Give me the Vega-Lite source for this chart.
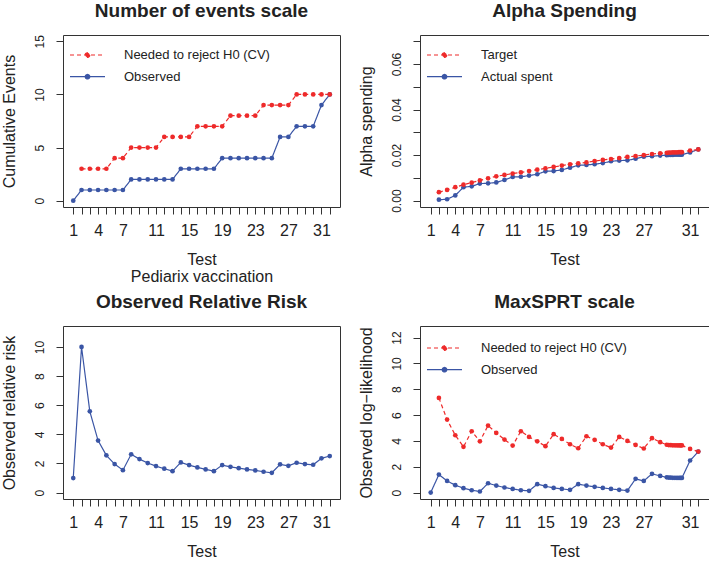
{
  "$schema": "https://vega.github.io/schema/vega-lite/v6.json",
  "padding": {"left": 0, "top": 1, "right": 0, "bottom": 0},
  "columns": 2,
  "spacing": {"row": 119, "column": 80},
  "bounds": "flush",
  "align": "each",
  "resolve": {"scale": {"color": "independent", "strokeDash": "independent", "x": "independent", "y": "independent"}, "legend": {"color": "independent"}},
  "datasets": {
    "events": [
      {"test":1,"series":"Observed","value":0},{"test":2,"series":"Observed","value":1},{"test":3,"series":"Observed","value":1},{"test":4,"series":"Observed","value":1},{"test":5,"series":"Observed","value":1},{"test":6,"series":"Observed","value":1},{"test":7,"series":"Observed","value":1},{"test":8,"series":"Observed","value":2},{"test":9,"series":"Observed","value":2},{"test":10,"series":"Observed","value":2},{"test":11,"series":"Observed","value":2},{"test":12,"series":"Observed","value":2},{"test":13,"series":"Observed","value":2},{"test":14,"series":"Observed","value":3},{"test":15,"series":"Observed","value":3},{"test":16,"series":"Observed","value":3},{"test":17,"series":"Observed","value":3},{"test":18,"series":"Observed","value":3},{"test":19,"series":"Observed","value":4},{"test":20,"series":"Observed","value":4},{"test":21,"series":"Observed","value":4},{"test":22,"series":"Observed","value":4},{"test":23,"series":"Observed","value":4},{"test":24,"series":"Observed","value":4},{"test":25,"series":"Observed","value":4},{"test":26,"series":"Observed","value":6},{"test":27,"series":"Observed","value":6},{"test":28,"series":"Observed","value":7},{"test":29,"series":"Observed","value":7},{"test":30,"series":"Observed","value":7},{"test":31,"series":"Observed","value":9},{"test":32,"series":"Observed","value":10},
      {"test":2,"series":"Needed to reject H0 (CV)","value":3},{"test":3,"series":"Needed to reject H0 (CV)","value":3},{"test":4,"series":"Needed to reject H0 (CV)","value":3},{"test":5,"series":"Needed to reject H0 (CV)","value":3},{"test":6,"series":"Needed to reject H0 (CV)","value":4},{"test":7,"series":"Needed to reject H0 (CV)","value":4},{"test":8,"series":"Needed to reject H0 (CV)","value":5},{"test":9,"series":"Needed to reject H0 (CV)","value":5},{"test":10,"series":"Needed to reject H0 (CV)","value":5},{"test":11,"series":"Needed to reject H0 (CV)","value":5},{"test":12,"series":"Needed to reject H0 (CV)","value":6},{"test":13,"series":"Needed to reject H0 (CV)","value":6},{"test":14,"series":"Needed to reject H0 (CV)","value":6},{"test":15,"series":"Needed to reject H0 (CV)","value":6},{"test":16,"series":"Needed to reject H0 (CV)","value":7},{"test":17,"series":"Needed to reject H0 (CV)","value":7},{"test":18,"series":"Needed to reject H0 (CV)","value":7},{"test":19,"series":"Needed to reject H0 (CV)","value":7},{"test":20,"series":"Needed to reject H0 (CV)","value":8},{"test":21,"series":"Needed to reject H0 (CV)","value":8},{"test":22,"series":"Needed to reject H0 (CV)","value":8},{"test":23,"series":"Needed to reject H0 (CV)","value":8},{"test":24,"series":"Needed to reject H0 (CV)","value":9},{"test":25,"series":"Needed to reject H0 (CV)","value":9},{"test":26,"series":"Needed to reject H0 (CV)","value":9},{"test":27,"series":"Needed to reject H0 (CV)","value":9},{"test":28,"series":"Needed to reject H0 (CV)","value":10},{"test":29,"series":"Needed to reject H0 (CV)","value":10},{"test":30,"series":"Needed to reject H0 (CV)","value":10},{"test":31,"series":"Needed to reject H0 (CV)","value":10},{"test":32,"series":"Needed to reject H0 (CV)","value":10}
    ],
    "alpha": [
      {"pos":2,"series":"Actual spent","value":0.0004},{"pos":3,"series":"Actual spent","value":0.0006},{"pos":4,"series":"Actual spent","value":0.0023},{"pos":5,"series":"Actual spent","value":0.0059},{"pos":6,"series":"Actual spent","value":0.0063},{"pos":7,"series":"Actual spent","value":0.0075},{"pos":8,"series":"Actual spent","value":0.0076},{"pos":9,"series":"Actual spent","value":0.008},{"pos":10,"series":"Actual spent","value":0.0091},{"pos":11,"series":"Actual spent","value":0.0104},{"pos":12,"series":"Actual spent","value":0.0105},{"pos":13,"series":"Actual spent","value":0.011},{"pos":14,"series":"Actual spent","value":0.0116},{"pos":15,"series":"Actual spent","value":0.0129},{"pos":16,"series":"Actual spent","value":0.013},{"pos":17,"series":"Actual spent","value":0.0135},{"pos":18,"series":"Actual spent","value":0.0145},{"pos":19,"series":"Actual spent","value":0.0155},{"pos":20,"series":"Actual spent","value":0.0157},{"pos":21,"series":"Actual spent","value":0.016},{"pos":22,"series":"Actual spent","value":0.0165},{"pos":23,"series":"Actual spent","value":0.0173},{"pos":24,"series":"Actual spent","value":0.0176},{"pos":25,"series":"Actual spent","value":0.0177},{"pos":26,"series":"Actual spent","value":0.0184},{"pos":27,"series":"Actual spent","value":0.0193},{"pos":28,"series":"Actual spent","value":0.0195},{"pos":29,"series":"Actual spent","value":0.0198},{"pos":29.8,"series":"Actual spent","value":0.02},{"pos":30.05,"series":"Actual spent","value":0.0201},{"pos":30.3,"series":"Actual spent","value":0.0201},{"pos":30.55,"series":"Actual spent","value":0.0201},{"pos":30.8,"series":"Actual spent","value":0.0202},{"pos":31.05,"series":"Actual spent","value":0.0202},{"pos":31.3,"series":"Actual spent","value":0.0202},{"pos":31.5,"series":"Actual spent","value":0.0202},{"pos":31.65,"series":"Actual spent","value":0.0202},{"pos":32.65,"series":"Actual spent","value":0.0212},{"pos":33.65,"series":"Actual spent","value":0.0225},
      {"pos":2,"series":"Target","value":0.0037},{"pos":3,"series":"Target","value":0.0047},{"pos":4,"series":"Target","value":0.0059},{"pos":5,"series":"Target","value":0.007},{"pos":6,"series":"Target","value":0.0079},{"pos":7,"series":"Target","value":0.0089},{"pos":8,"series":"Target","value":0.0098},{"pos":9,"series":"Target","value":0.0107},{"pos":10,"series":"Target","value":0.0113},{"pos":11,"series":"Target","value":0.0119},{"pos":12,"series":"Target","value":0.0124},{"pos":13,"series":"Target","value":0.013},{"pos":14,"series":"Target","value":0.0136},{"pos":15,"series":"Target","value":0.0142},{"pos":16,"series":"Target","value":0.0148},{"pos":17,"series":"Target","value":0.0154},{"pos":18,"series":"Target","value":0.016},{"pos":19,"series":"Target","value":0.0164},{"pos":20,"series":"Target","value":0.0168},{"pos":21,"series":"Target","value":0.0174},{"pos":22,"series":"Target","value":0.0179},{"pos":23,"series":"Target","value":0.0183},{"pos":24,"series":"Target","value":0.0187},{"pos":25,"series":"Target","value":0.0192},{"pos":26,"series":"Target","value":0.0196},{"pos":27,"series":"Target","value":0.02},{"pos":28,"series":"Target","value":0.0205},{"pos":29,"series":"Target","value":0.0208},{"pos":29.8,"series":"Target","value":0.021},{"pos":30.05,"series":"Target","value":0.0211},{"pos":30.3,"series":"Target","value":0.0211},{"pos":30.55,"series":"Target","value":0.0212},{"pos":30.8,"series":"Target","value":0.0212},{"pos":31.05,"series":"Target","value":0.0212},{"pos":31.3,"series":"Target","value":0.0213},{"pos":31.5,"series":"Target","value":0.0213},{"pos":31.65,"series":"Target","value":0.0213},{"pos":32.65,"series":"Target","value":0.022},{"pos":33.65,"series":"Target","value":0.0225}
    ],
    "rr": [
      {"test":1,"value":1.0},{"test":2,"value":10.0},{"test":3,"value":5.58},{"test":4,"value":3.57},{"test":5,"value":2.56},{"test":6,"value":1.96},{"test":7,"value":1.54},{"test":8,"value":2.63},{"test":9,"value":2.3},{"test":10,"value":2.03},{"test":11,"value":1.82},{"test":12,"value":1.64},{"test":13,"value":1.47},{"test":14,"value":2.07},{"test":15,"value":1.89},{"test":16,"value":1.73},{"test":17,"value":1.59},{"test":18,"value":1.47},{"test":19,"value":1.89},{"test":20,"value":1.77},{"test":21,"value":1.68},{"test":22,"value":1.59},{"test":23,"value":1.52},{"test":24,"value":1.43},{"test":25,"value":1.36},{"test":26,"value":1.94},{"test":27,"value":1.84},{"test":28,"value":2.05},{"test":29,"value":1.96},{"test":30,"value":1.91},{"test":31,"value":2.35},{"test":32,"value":2.51}
    ],
    "llr": [
      {"pos":1,"series":"Observed","value":0},{"pos":2,"series":"Observed","value":1.39},{"pos":3,"series":"Observed","value":0.9},{"pos":4,"series":"Observed","value":0.57},{"pos":5,"series":"Observed","value":0.34},{"pos":6,"series":"Observed","value":0.18},{"pos":7,"series":"Observed","value":0.08},{"pos":8,"series":"Observed","value":0.72},{"pos":9,"series":"Observed","value":0.54},{"pos":10,"series":"Observed","value":0.39},{"pos":11,"series":"Observed","value":0.28},{"pos":12,"series":"Observed","value":0.18},{"pos":13,"series":"Observed","value":0.13},{"pos":14,"series":"Observed","value":0.65},{"pos":15,"series":"Observed","value":0.49},{"pos":16,"series":"Observed","value":0.36},{"pos":17,"series":"Observed","value":0.28},{"pos":18,"series":"Observed","value":0.21},{"pos":19,"series":"Observed","value":0.65},{"pos":20,"series":"Observed","value":0.54},{"pos":21,"series":"Observed","value":0.44},{"pos":22,"series":"Observed","value":0.36},{"pos":23,"series":"Observed","value":0.28},{"pos":24,"series":"Observed","value":0.21},{"pos":25,"series":"Observed","value":0.15},{"pos":26,"series":"Observed","value":1.06},{"pos":27,"series":"Observed","value":0.9},{"pos":28,"series":"Observed","value":1.45},{"pos":29,"series":"Observed","value":1.29},{"pos":29.8,"series":"Observed","value":1.18},{"pos":30.05,"series":"Observed","value":1.16},{"pos":30.3,"series":"Observed","value":1.15},{"pos":30.55,"series":"Observed","value":1.14},{"pos":30.8,"series":"Observed","value":1.14},{"pos":31.05,"series":"Observed","value":1.13},{"pos":31.3,"series":"Observed","value":1.13},{"pos":31.5,"series":"Observed","value":1.13},{"pos":31.65,"series":"Observed","value":1.13},{"pos":32.65,"series":"Observed","value":2.48},{"pos":33.65,"series":"Observed","value":3.17},
      {"pos":2,"series":"Needed to reject H0 (CV)","value":7.33},{"pos":3,"series":"Needed to reject H0 (CV)","value":5.65},{"pos":4,"series":"Needed to reject H0 (CV)","value":4.44},{"pos":5,"series":"Needed to reject H0 (CV)","value":3.54},{"pos":6,"series":"Needed to reject H0 (CV)","value":4.75},{"pos":7,"series":"Needed to reject H0 (CV)","value":3.97},{"pos":8,"series":"Needed to reject H0 (CV)","value":5.19},{"pos":9,"series":"Needed to reject H0 (CV)","value":4.62},{"pos":10,"series":"Needed to reject H0 (CV)","value":4.1},{"pos":11,"series":"Needed to reject H0 (CV)","value":3.64},{"pos":12,"series":"Needed to reject H0 (CV)","value":4.75},{"pos":13,"series":"Needed to reject H0 (CV)","value":4.31},{"pos":14,"series":"Needed to reject H0 (CV)","value":3.97},{"pos":15,"series":"Needed to reject H0 (CV)","value":3.59},{"pos":16,"series":"Needed to reject H0 (CV)","value":4.52},{"pos":17,"series":"Needed to reject H0 (CV)","value":4.15},{"pos":18,"series":"Needed to reject H0 (CV)","value":3.74},{"pos":19,"series":"Needed to reject H0 (CV)","value":3.43},{"pos":20,"series":"Needed to reject H0 (CV)","value":4.36},{"pos":21,"series":"Needed to reject H0 (CV)","value":4.08},{"pos":22,"series":"Needed to reject H0 (CV)","value":3.74},{"pos":23,"series":"Needed to reject H0 (CV)","value":3.48},{"pos":24,"series":"Needed to reject H0 (CV)","value":4.31},{"pos":25,"series":"Needed to reject H0 (CV)","value":4.0},{"pos":26,"series":"Needed to reject H0 (CV)","value":3.69},{"pos":27,"series":"Needed to reject H0 (CV)","value":3.41},{"pos":28,"series":"Needed to reject H0 (CV)","value":4.21},{"pos":29,"series":"Needed to reject H0 (CV)","value":3.9},{"pos":29.8,"series":"Needed to reject H0 (CV)","value":3.7},{"pos":30.05,"series":"Needed to reject H0 (CV)","value":3.68},{"pos":30.3,"series":"Needed to reject H0 (CV)","value":3.67},{"pos":30.55,"series":"Needed to reject H0 (CV)","value":3.66},{"pos":30.8,"series":"Needed to reject H0 (CV)","value":3.66},{"pos":31.05,"series":"Needed to reject H0 (CV)","value":3.65},{"pos":31.3,"series":"Needed to reject H0 (CV)","value":3.65},{"pos":31.5,"series":"Needed to reject H0 (CV)","value":3.65},{"pos":31.65,"series":"Needed to reject H0 (CV)","value":3.65},{"pos":32.65,"series":"Needed to reject H0 (CV)","value":3.38},{"pos":33.65,"series":"Needed to reject H0 (CV)","value":3.17}
    ]
  },
  "concat": [
    {
      "title": "Number of events scale",
      "width": 277, "height": 172,
      "data": {"name": "events"},
      "encoding": {
        "x": {"field": "test", "type": "quantitative", "scale": {"domain": [-0.24, 33.24], "nice": false, "zero": false},
              "axis": {"title": ["Test", "Pediarix vaccination"], "titleLineHeight": 17, "values": [1,2,3,4,5,6,7,8,9,10,11,12,13,14,15,16,17,18,19,20,21,22,23,24,25,26,27,28,29,30,31,32],
                       "labelExpr": "indexof([1,4,7,11,15,19,23,27,31], datum.value) >= 0 ? datum.label : ''"}},
        "y": {"field": "value", "type": "quantitative", "scale": {"domain": [-0.6, 15.6], "nice": false, "zero": false},
              "axis": {"title": "Cumulative Events", "values": [0,5,10,15]}},
        "color": {"field": "series", "type": "nominal",
                  "scale": {"domain": ["Needed to reject H0 (CV)", "Observed"], "range": ["#ee2a2a", "#3a55a5"]},
                  "legend": {"title": null, "orient": "none", "legendX": 6, "legendY": 12,
                             "encode": {"symbols": {"update": {
                               "fill": {"signal": "indexof(['Observed','Actual spent'], datum.value) >= 0 ? '#3a55a5' : '#ee2a2a'"},
                               "stroke": {"signal": "indexof(['Observed','Actual spent'], datum.value) >= 0 ? '#3a55a5' : '#ee2a2a'"},
                               "strokeDash": {"signal": "indexof(['Observed','Actual spent'], datum.value) >= 0 ? [1,0] : [4,3]"}}}}}}
      },
      "layer": [
        {"mark": {"type": "line", "strokeWidth": 1.2},
         "encoding": {"strokeDash": {"field": "series", "type": "nominal", "scale": {"domain": ["Needed to reject H0 (CV)", "Observed"], "range": [[4,3],[1,0]]}, "legend": null}}},
        {"mark": {"type": "point", "filled": true, "size": 22, "opacity": 1}}
      ]
    },
    {
      "title": "Alpha Spending",
      "width": 289, "height": 172,
      "data": {"name": "alpha"},
      "encoding": {
        "x": {"field": "pos", "type": "quantitative", "scale": {"domain": [-0.306, 34.956], "nice": false, "zero": false},
              "axis": {"title": "Test", "values": [1,2,3,4,5,6,7,8,9,10,11,12,13,14,15,16,17,18,19,20,21,22,23,24,25,26,27,28,29,31.65,32.65,33.65],
                       "labelExpr": "datum.value == 32.65 ? '31' : (indexof([1,4,7,11,15,19,23,27], datum.value) >= 0 ? datum.label : '')"}},
        "y": {"field": "value", "type": "quantitative", "scale": {"domain": [-0.0028, 0.0728], "nice": false, "zero": false},
              "axis": {"title": "Alpha spending", "values": [0,0.01,0.02,0.03,0.04,0.05,0.06,0.07],
                       "labelExpr": "round(datum.value * 100) % 2 == 0 ? format(datum.value, '.2f') : ''"}},
        "color": {"field": "series", "type": "nominal",
                  "scale": {"domain": ["Target", "Actual spent"], "range": ["#ee2a2a", "#3a55a5"]},
                  "legend": {"title": null, "orient": "none", "legendX": 6, "legendY": 12,
                             "encode": {"symbols": {"update": {
                               "fill": {"signal": "indexof(['Observed','Actual spent'], datum.value) >= 0 ? '#3a55a5' : '#ee2a2a'"},
                               "stroke": {"signal": "indexof(['Observed','Actual spent'], datum.value) >= 0 ? '#3a55a5' : '#ee2a2a'"},
                               "strokeDash": {"signal": "indexof(['Observed','Actual spent'], datum.value) >= 0 ? [1,0] : [4,3]"}}}}}}
      },
      "layer": [
        {"mark": {"type": "line", "strokeWidth": 1.2},
         "encoding": {"strokeDash": {"field": "series", "type": "nominal", "scale": {"domain": ["Target", "Actual spent"], "range": [[4,3],[1,0]]}, "legend": null}}},
        {"mark": {"type": "point", "filled": true, "size": 22, "opacity": 1}}
      ]
    },
    {
      "title": "Observed Relative Risk",
      "width": 277, "height": 173,
      "data": {"name": "rr"},
      "encoding": {
        "x": {"field": "test", "type": "quantitative", "scale": {"domain": [-0.24, 33.24], "nice": false, "zero": false},
              "axis": {"title": "Test", "values": [1,2,3,4,5,6,7,8,9,10,11,12,13,14,15,16,17,18,19,20,21,22,23,24,25,26,27,28,29,30,31,32],
                       "labelExpr": "indexof([1,4,7,11,15,19,23,27,31], datum.value) >= 0 ? datum.label : ''"}},
        "y": {"field": "value", "type": "quantitative", "scale": {"domain": [-0.44, 11.44], "nice": false, "zero": false},
              "axis": {"title": "Observed relative risk", "values": [0,2,4,6,8,10]}}
      },
      "layer": [
        {"mark": {"type": "line", "strokeWidth": 1.2, "color": "#3a55a5"}},
        {"mark": {"type": "point", "filled": true, "size": 22, "opacity": 1, "color": "#3a55a5"}}
      ]
    },
    {
      "title": "MaxSPRT scale",
      "width": 289, "height": 173,
      "data": {"name": "llr"},
      "encoding": {
        "x": {"field": "pos", "type": "quantitative", "scale": {"domain": [-0.306, 34.956], "nice": false, "zero": false},
              "axis": {"title": "Test", "values": [1,2,3,4,5,6,7,8,9,10,11,12,13,14,15,16,17,18,19,20,21,22,23,24,25,26,27,28,29,31.65,32.65,33.65],
                       "labelExpr": "datum.value == 32.65 ? '31' : (indexof([1,4,7,11,15,19,23,27], datum.value) >= 0 ? datum.label : '')"}},
        "y": {"field": "value", "type": "quantitative", "scale": {"domain": [-0.5, 12.9], "nice": false, "zero": false},
              "axis": {"title": "Observed log−likelihood", "values": [0,2,4,6,8,10,12]}},
        "color": {"field": "series", "type": "nominal",
                  "scale": {"domain": ["Needed to reject H0 (CV)", "Observed"], "range": ["#ee2a2a", "#3a55a5"]},
                  "legend": {"title": null, "orient": "none", "legendX": 6, "legendY": 14,
                             "encode": {"symbols": {"update": {
                               "fill": {"signal": "indexof(['Observed','Actual spent'], datum.value) >= 0 ? '#3a55a5' : '#ee2a2a'"},
                               "stroke": {"signal": "indexof(['Observed','Actual spent'], datum.value) >= 0 ? '#3a55a5' : '#ee2a2a'"},
                               "strokeDash": {"signal": "indexof(['Observed','Actual spent'], datum.value) >= 0 ? [1,0] : [4,3]"}}}}}}
      },
      "layer": [
        {"mark": {"type": "line", "strokeWidth": 1.2},
         "encoding": {"strokeDash": {"field": "series", "type": "nominal", "scale": {"domain": ["Needed to reject H0 (CV)", "Observed"], "range": [[4,3],[1,0]]}, "legend": null}}},
        {"mark": {"type": "point", "filled": true, "size": 22, "opacity": 1}}
      ]
    }
  ],
  "config": {
    "font": "Liberation Sans",
    "view": {"stroke": "#333", "strokeWidth": 1},
    "axis": {"domain": false, "grid": false, "tickColor": "#333", "tickSize": 7, "tickWidth": 1,
             "labelColor": "#222", "titleColor": "#222", "labelFont": "Liberation Sans", "titleFont": "Liberation Sans",
             "titleFontSize": 16, "titleFontWeight": "normal", "labelOverlap": false, "labelFlush": false},
    "axisX": {"labelFontSize": 16, "labelPadding": 8, "titlePadding": 13, "labelAngle": 0},
    "axisY": {"labelFontSize": 12, "labelAngle": -90, "labelAlign": "center", "labelBaseline": "bottom", "labelPadding": 9.5, "titlePadding": 16.3},
    "title": {"font": "Liberation Sans", "fontSize": 19, "fontWeight": "bold", "color": "#222", "offset": 14},
    "legend": {"symbolType": "M-1,0L1,0M-0.13,0A0.13,0.13,0,1,1,0.13,0A0.13,0.13,0,1,1,-0.13,0Z",
               "symbolSize": 1225, "symbolStrokeWidth": 1.2, "clipHeight": 16, "rowPadding": 5.7,
               "labelOffset": 18, "labelFontSize": 13, "labelFont": "Liberation Sans", "labelColor": "#222", "padding": 0}
  }
}
